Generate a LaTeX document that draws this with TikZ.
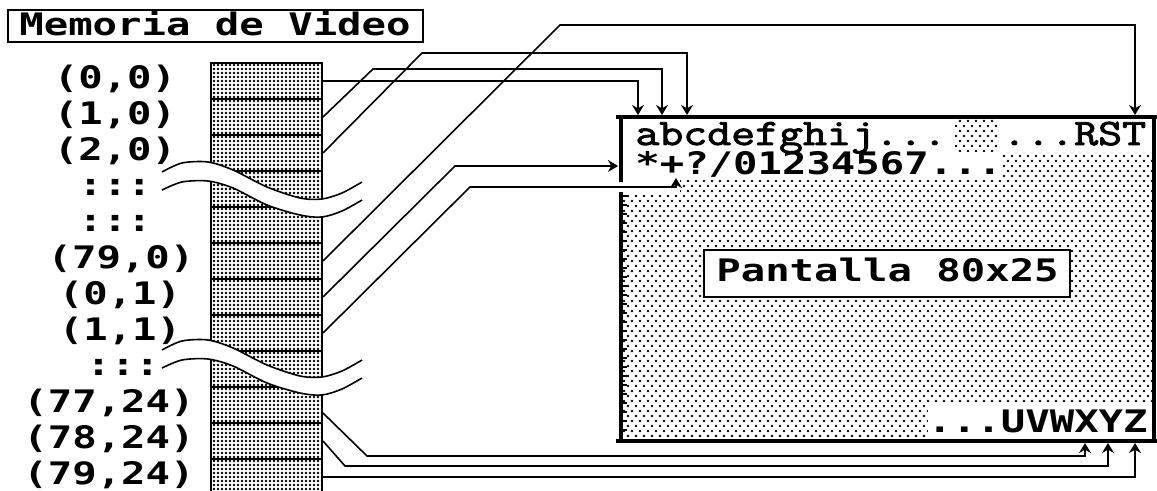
\documentclass[tikz,border=0pt]{standalone}
\usepackage{fontspec}
\usetikzlibrary{arrows.meta,patterns}
\newfontfamily\sysfont[FakeStretch=1.31]{DejaVu Sans Mono}
\newfontfamily\scrfont[FakeStretch=1.25,FakeBold=2.5]{Latin Modern Mono}
\pgfdeclarepatternformonly{memdots}{\pgfqpoint{-0.5pt}{-0.5pt}}{\pgfqpoint{2.5pt}{2.5pt}}{\pgfqpoint{2pt}{2pt}}
  {\pgfpathcircle{\pgfqpoint{1pt}{1pt}}{0.68pt}\pgfusepath{fill}}
\pgfdeclarepatternformonly{scrdots}{\pgfqpoint{-0.8pt}{-0.8pt}}{\pgfqpoint{4.8pt}{5.8pt}}{\pgfqpoint{4pt}{5pt}}
  {\pgfpathcircle{\pgfqpoint{0pt}{0pt}}{0.72pt}\pgfpathcircle{\pgfqpoint{2pt}{2.5pt}}{0.72pt}\pgfusepath{fill}}

\begin{document}
\begin{tikzpicture}[x=0.5pt,y=-0.5pt,>={Stealth[length=5pt,width=6pt]},
  sys/.style={font=\sysfont\bfseries\fontsize{15.5pt}{17pt}\selectfont,inner sep=0pt},
  scr/.style={font=\scrfont\fontsize{18.6pt}{20pt}\selectfont,inner sep=0pt},
  cell/.style={draw,line width=1pt,pattern=memdots,minimum width=55.5pt,minimum height=18pt,inner sep=0pt},
  conn/.style={->,line width=0.8pt},
  brd/.style={line width=2.2pt}]
\useasboundingbox (0,0) rectangle (1157,491);
\clip (0,0) rectangle (1157,491);
% title
\draw[line width=1pt] (8,10) rectangle (423,42);
\node[sys,anchor=base west] (title) at (19,36) {Memoria de Video};
% memory column
\foreach \i in {1,...,12}
  \node[cell] (m\i) at (266.5,{45+36*\i}) {};
\foreach \i in {1,...,11}
  \foreach \x in {214,226,...,322}
    \draw[line width=0.6pt] (\x,{63+36*\i-2.5}) -- ++(0,5);
\foreach \i/\x/\l in {1/115/{(0,0)},2/115/{(1,0)},3/115/{(2,0)},4/115/{:::},5/115/{:::},
    6/121/{(79,0)},7/120/{(0,1)},8/120/{(1,1)},9/123/{:::},10/109/{(77,24)},11/109/{(78,24)},12/109/{(79,24)}}
  \node[sys] (l\i) at (\x,{43+36*\i}) {\l};
% breaks
\foreach \dy in {0,178}{
\begin{scope}[shift={(0,\dy)}]
  \fill[white] plot[smooth] coordinates {(162,172) (182,163) (208,162) (233,170) (267,187) (300,198) (322,199) (342,193) (362,182)}
    -- plot[smooth] coordinates {(362,200) (342,211) (322,217) (300,215) (267,205) (233,188) (208,181) (182,182) (162,190)} -- cycle;
  \draw[line width=0.8pt] plot[smooth] coordinates {(162,172) (182,163) (208,162) (233,170) (267,187) (300,198) (322,199) (342,193) (362,182)};
  \draw[line width=0.8pt] plot[smooth] coordinates {(162,190) (182,182) (208,181) (233,188) (267,205) (300,215) (322,217) (342,211) (362,200)};
\end{scope}}
% screen
\fill[pattern=scrdots] (623,119) rectangle (1153,439);
\fill[white] (623,119) rectangle (955,152);
\fill[white] (999,119) rectangle (1153,152);
\fill[white] (623,152) rectangle (1001,180);
\fill[white] (615,180) rectangle (680,193);
\fill[white] (928,405) rectangle (1153,439);
\draw[line width=1pt,fill=white] (704,250) rectangle (1070,297);
\node[scr,anchor=base west] (rowa) at (635,145) {abcdefghij...};
\node[scr,anchor=base west] (rowb) at (1002,145) {...RST};
\node[sys,anchor=base west] (rowc) at (635,175) {*+?/01234567...};
\node[sys,anchor=base east] (rowz) at (1148,433) {...UVWXYZ};
\node[sys,anchor=base west] (pant) at (716,282) {Pantalla 80x25};
\draw[brd] (616,117) -- (1157,117);
\draw[brd] (616,441) -- (1157,441);
\draw[brd] (1154,117) -- (1154,441);
\draw[brd] (621,117) -- (621,182);
\draw[brd] (621,192) -- (621,441);
\foreach \y in {196,205,...,436}
  \draw[line width=0.6pt] (623,\y) -- ++(4,0);
% targets
\coordinate (t1) at (638,115);
\coordinate (t2) at (662,115);
\coordinate (t3) at (687,115);
\coordinate (t4) at (1135,115);
\coordinate (s1) at (618,166);
\coordinate (s2) at (676,178);
\coordinate (b1) at (1085,443);
\coordinate (b2) at (1108,443);
\coordinate (b3) at (1135,443);
% connectors
\draw[conn] (m1.east) -| (t1);
\draw[conn] (m2.east) -- (373,69) -| (t2);
\draw[conn] (m3.east) -- (422,53) -| (t3);
\draw[conn] (m6.east) -- (560,25) -| (t4);
\draw[conn] (m7.east) -- (455,166) -- (s1);
\draw[conn] (m8.east) -- (470,187) -| (s2);
\draw[conn] ([yshift=-4pt]m10.east) -- (367,456) -| (b1);
\draw[conn] (m11.east) -- (345,466) -| (b2);
\draw[conn] (m12.east) -| (b3);
\end{tikzpicture}
\end{document}
